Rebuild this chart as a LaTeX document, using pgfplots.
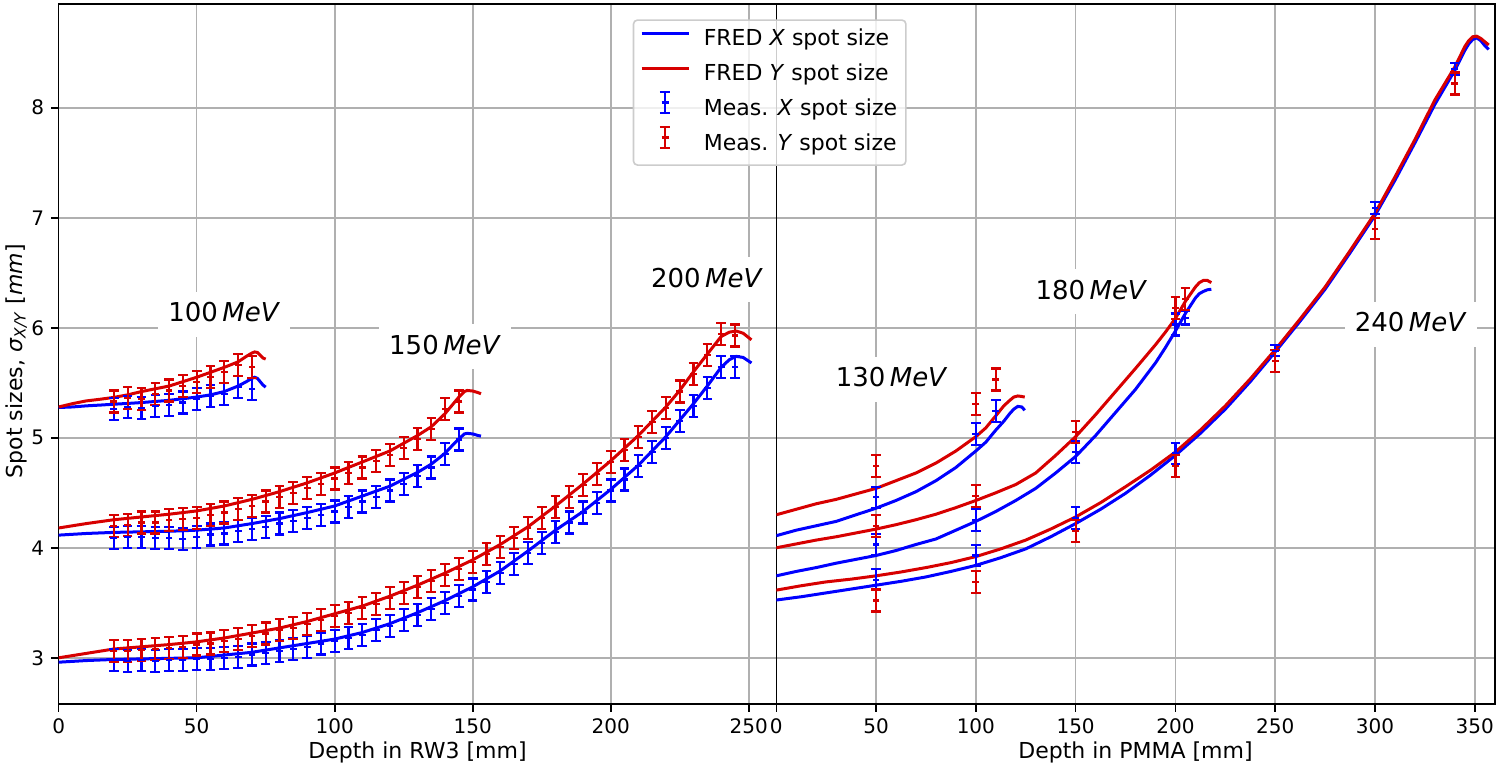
\documentclass[border=0pt]{standalone}
\usepackage{pgfplots}
\pgfplotsset{compat=1.18}
\usepackage{pgfplotstable}
\usepackage{fontspec}
\setmainfont{DejaVu Sans}
\definecolor{mblue}{RGB}{0,0,255}
\definecolor{mred}{RGB}{215,0,0}
\definecolor{mgrid}{RGB}{176,176,176}

% ---------------- RW3 (left) ----------------
\pgfplotstableread{
x b r
0 5.275 5.28
5 5.28 5.31
10 5.29 5.335
15 5.297 5.35
20 5.305 5.367
25 5.312 5.39
30 5.32 5.42
35 5.33 5.445
40 5.34 5.47
45 5.355 5.51
50 5.37 5.55
55 5.39 5.595
60 5.42 5.64
65 5.47 5.69
68 5.51 5.74
70 5.54 5.77
71 5.55 5.78
72 5.54 5.775
73 5.51 5.75
74 5.48 5.725
75 5.46 5.715
}\fredA
\pgfplotstableread{
x b r
20 5.26 5.33
25 5.28 5.36
30 5.27 5.35
35 5.29 5.40
40 5.30 5.43
45 5.32 5.47
50 5.35 5.51
55 5.38 5.55
60 5.40 5.60
65 5.46 5.66
70 5.44 5.64
}\measA
\pgfplotstableread{
x b r
0 4.115 4.18
10 4.13 4.22
20 4.14 4.255
30 4.145 4.28
40 4.15 4.305
50 4.16 4.335
60 4.18 4.38
70 4.22 4.44
80 4.265 4.51
90 4.32 4.59
100 4.38 4.68
110 4.47 4.78
120 4.56 4.88
130 4.685 5.02
135 4.76 5.10
140 4.86 5.22
143 4.94 5.31
145 4.99 5.37
147 5.035 5.42
148 5.04 5.43
150 5.035 5.425
152 5.02 5.41
153 5.015 5.40
}\fredB
\pgfplotstableread{
x b r
20 4.09 4.20
25 4.10 4.21
30 4.10 4.23
35 4.09 4.23
40 4.09 4.25
45 4.08 4.26
50 4.10 4.27
55 4.12 4.30
60 4.13 4.32
65 4.15 4.35
70 4.17 4.38
75 4.19 4.42
80 4.22 4.46
85 4.24 4.50
90 4.27 4.54
95 4.30 4.58
100 4.33 4.63
105 4.37 4.68
110 4.42 4.73
115 4.46 4.79
120 4.52 4.84
125 4.58 4.91
130 4.65 4.99
135 4.73 5.08
140 4.85 5.26
145 4.985 5.33
}\measB
\pgfplotstableread{
x b r
0 2.96 3.00
10 2.975 3.04
20 2.985 3.08
30 2.99 3.10
40 2.995 3.12
50 3.00 3.145
60 3.025 3.18
70 3.05 3.225
80 3.09 3.27
90 3.13 3.33
100 3.17 3.40
110 3.23 3.47
120 3.31 3.56
130 3.41 3.66
140 3.52 3.77
150 3.645 3.89
160 3.79 4.03
170 3.97 4.19
180 4.16 4.38
190 4.33 4.58
200 4.53 4.79
210 4.75 5.02
220 5.01 5.28
225 5.16 5.43
230 5.31 5.60
235 5.47 5.76
240 5.64 5.92
243 5.71 5.96
245.5 5.74 5.97
248 5.73 5.95
251 5.68 5.89
}\fredC
\pgfplotstableread{
x b r
20 2.98 3.06
25 2.97 3.06
30 2.98 3.07
35 2.97 3.08
40 2.98 3.09
45 2.98 3.10
50 2.99 3.12
55 2.99 3.13
60 3.00 3.15
65 3.01 3.17
70 3.03 3.20
75 3.04 3.22
80 3.06 3.25
85 3.08 3.27
90 3.10 3.31
95 3.13 3.34
100 3.15 3.38
105 3.18 3.41
110 3.21 3.45
115 3.25 3.49
120 3.29 3.54
125 3.34 3.59
130 3.39 3.64
135 3.44 3.70
140 3.50 3.75
145 3.56 3.81
150 3.62 3.87
155 3.69 3.94
160 3.77 4.01
165 3.85 4.09
170 3.95 4.18
175 4.04 4.27
180 4.14 4.37
185 4.23 4.46
190 4.32 4.57
195 4.41 4.67
200 4.52 4.78
205 4.62 4.89
210 4.74 5.01
215 4.87 5.14
220 5.00 5.27
225 5.15 5.42
230 5.29 5.58
235 5.45 5.75
240 5.64 5.94
245 5.64 5.93
}\measC

% ---------------- PMMA (right) ----------------
\pgfplotstableread{
x b r
0 4.11 4.30
10 4.16 4.35
20 4.20 4.40
30 4.24 4.44
40 4.30 4.49
50 4.36 4.54
60 4.43 4.61
70 4.51 4.68
80 4.61 4.77
90 4.73 4.88
100 4.88 5.01
105 4.96 5.09
110 5.07 5.20
114 5.15 5.29
117 5.22 5.34
119 5.26 5.37
121 5.285 5.38
123 5.28 5.375
124.5 5.25 5.37
}\fredD
\pgfplotstableread{
x b r
0 3.745 4.00
10 3.785 4.035
20 3.82 4.07
30 3.86 4.10
40 3.895 4.135
50 3.93 4.17
60 3.975 4.21
70 4.03 4.255
80 4.08 4.305
90 4.16 4.365
100 4.24 4.43
110 4.33 4.50
120 4.43 4.575
130 4.54 4.68
140 4.68 4.84
150 4.83 5.01
160 5.02 5.21
170 5.23 5.42
180 5.44 5.63
190 5.68 5.845
195 5.82 5.96
200 5.97 6.085
205 6.13 6.24
210 6.27 6.37
212 6.31 6.41
214 6.33 6.43
216 6.345 6.43
218 6.35 6.41
}\fredE
\pgfplotstableread{
x b r
0 3.525 3.615
12.5 3.555 3.655
25 3.59 3.69
37.5 3.625 3.715
50 3.66 3.745
62.5 3.695 3.78
75 3.735 3.82
87.5 3.785 3.865
100 3.84 3.92
112.5 3.91 3.99
125 3.99 4.07
137.5 4.10 4.17
150 4.22 4.28
162.5 4.35 4.41
175 4.495 4.555
187.5 4.66 4.705
200 4.84 4.87
212.5 5.04 5.07
225 5.26 5.29
237.5 5.51 5.535
250 5.78 5.80
262.5 6.06 6.08
275 6.35 6.37
287.5 6.68 6.70
300 7.02 7.04
310 7.34 7.37
320 7.68 7.71
330 8.03 8.07
340 8.34 8.37
345 8.52 8.555
347 8.58 8.61
349 8.62 8.645
351 8.635 8.65
353 8.61 8.63
355 8.565 8.60
357 8.53 8.57
}\fredF
\pgfplotstableread{
x y e
50 4.46 0.095
50 4.03 0.095
50 3.71 0.095
100 5.035 0.1
100 4.25 0.1
100 3.93 0.095
110 5.245 0.1
150 4.87 0.1
150 4.27 0.1
200 6.03 0.1
200 4.86 0.095
205 6.09 0.06
250 5.79 0.05
300 7.09 0.053
340 8.35 0.053
}\measBlueR
\pgfplotstableread{
x y e
50 4.745 0.1
50 4.20 0.1
50 3.52 0.1
100 5.31 0.1
100 4.47 0.1
100 3.69 0.1
110 5.53 0.1
150 5.055 0.1
150 4.155 0.1
200 6.18 0.1
200 4.745 0.1
205 6.26 0.1
250 5.70 0.1
300 6.90 0.095
340 8.22 0.1
}\measRedR

\tikzset{
  anno/.style={fill=white, anchor=base, inner xsep=5pt, inner ysep=4pt,
    text height=11pt, text depth=3.5pt, font=\fontsize{13}{15}\selectfont},
}
\pgfplotsset{
  common/.style={
    scale only axis, height=349.85pt,
    ymin=2.58, ymax=8.94, ytick={3,4,5,6,7,8},
    grid=major, grid style={mgrid, line width=0.8pt},
    axis line style={black, line width=0.8pt},
    tick align=outside, major tick length=3.8pt,
    every tick/.style={black, line width=0.8pt},
    xtick pos=left, ytick pos=left,
    tick label style={font=\fontsize{10}{12}\selectfont},
    /pgf/number format/assume math mode=true,
    label style={font=\fontsize{11}{13}\selectfont},
    xlabel style={at={(axis description cs:0.5,0)}, anchor=base, yshift=-27pt},
  },
  fred/.style={line width=1.5pt, no marks},
  meas/.style={only marks, mark=-, mark size=1.7pt, mark options={line width=1.1pt},
    error bars/y dir=both,
    error bars/error bar style={line width=1.1pt},
    error bars/error mark options={line width=1.1pt, mark size=2.4pt, rotate=90}},
}

\begin{document}
\begin{tikzpicture}
\useasboundingbox (-29.35pt,-31pt) rectangle (720.15pt,352pt);
% ---------- left axis ----------
\begin{axis}[common, at={(0pt,0pt)}, anchor=south west, width=358.8pt,
  xmin=0, xmax=260, xtick={0,50,100,150,200,250},
  xlabel={Depth in RW3 [mm]},
  ylabel={Spot sizes, \textit{σ}\textsubscript{\textit{X/Y}} [\textit{mm}]},
  ylabel style={at={(axis description cs:-0.0511,0.49)}, anchor=base},
]
\addplot[mblue, fred] table[x=x, y=b] {\fredA};
\addplot[mred, fred] table[x=x, y=r] {\fredA};
\addplot[mblue, fred] table[x=x, y=b] {\fredB};
\addplot[mred, fred] table[x=x, y=r] {\fredB};
\addplot[mblue, fred] table[x=x, y=b] {\fredC};
\addplot[mred, fred] table[x=x, y=r] {\fredC};
\addplot[mblue, meas, error bars/y fixed=0.1] table[x=x, y=b] {\measA};
\addplot[mred, meas, error bars/y fixed=0.1] table[x=x, y=r] {\measA};
\addplot[mblue, meas, error bars/y fixed=0.1] table[x=x, y=b] {\measB};
\addplot[mred, meas, error bars/y fixed=0.1] table[x=x, y=r] {\measB};
\addplot[mblue, meas, error bars/y fixed=0.1] table[x=x, y=b] {\measC};
\addplot[mred, meas, error bars/y fixed=0.1] table[x=x, y=r] {\measC};
\node[anno] at (axis cs:60,6.055) {100\hspace{0.17em}\textit{MeV}};
\node[anno] at (axis cs:140,5.76) {150\hspace{0.17em}\textit{MeV}};
\node[anno] at (axis cs:234.9,6.367) {200\hspace{0.17em}\textit{MeV}};
\end{axis}
% ---------- right axis ----------
\begin{axis}[common, at={(358.8pt,0pt)}, anchor=south west, width=359.2pt,
  xmin=0, xmax=360, xtick={0,50,100,150,200,250,300,350},
  xlabel={Depth in PMMA [mm]},
  yticklabels={}, ytick style={draw=none},
  legend style={at={(-0.1999,0.9786)}, anchor=north west, draw=black!20, line width=0.8pt,
    rounded corners=2pt, fill=white, fill opacity=0.8, text opacity=1, draw opacity=1,
    inner sep=3.35pt, font=\fontsize{11}{13}\selectfont, row sep=4.2pt, column sep=5.8pt,
    nodes={inner sep=1pt, text height=8.5pt, text depth=2.8pt}},
  legend cell align=left,
]
\addlegendimage{legend image code/.code={\draw[mblue, line width=1.5pt] (0pt,3.5pt) -- (23.5pt,3.5pt);}}
\addlegendentry{FRED \textit{X} spot size}
\addlegendimage{legend image code/.code={\draw[mred, line width=1.5pt] (0pt,3.5pt) -- (23.5pt,3.5pt);}}
\addlegendentry{FRED \textit{Y} spot size}
\addlegendimage{legend image code/.code={
  \path[draw=none, fill=none] (0pt,3.5pt) -- (23.5pt,3.5pt);
  \begin{scope}[overlay]
  \draw[mblue, line width=1.1pt] (11.75pt,-1.65pt) -- (11.75pt,9.15pt);
  \draw[mblue, line width=1.1pt] (9.1pt,-1.65pt) -- (14.4pt,-1.65pt);
  \draw[mblue, line width=1.1pt] (9.1pt,9.15pt) -- (14.4pt,9.15pt);
  \draw[mblue, line width=1.1pt] (10pt,3.75pt) -- (13.5pt,3.75pt);
  \end{scope}}}
\addlegendentry{Meas. \textit{X} spot size}
\addlegendimage{legend image code/.code={
  \path[draw=none, fill=none] (0pt,3.5pt) -- (23.5pt,3.5pt);
  \begin{scope}[overlay]
  \draw[mred, line width=1.1pt] (11.75pt,-1.65pt) -- (11.75pt,9.15pt);
  \draw[mred, line width=1.1pt] (9.1pt,-1.65pt) -- (14.4pt,-1.65pt);
  \draw[mred, line width=1.1pt] (9.1pt,9.15pt) -- (14.4pt,9.15pt);
  \draw[mred, line width=1.1pt] (10pt,3.75pt) -- (13.5pt,3.75pt);
  \end{scope}}}
\addlegendentry{Meas. \textit{Y} spot size}
\addplot[mblue, fred, forget plot] table[x=x, y=b] {\fredD};
\addplot[mred, fred, forget plot] table[x=x, y=r] {\fredD};
\addplot[mblue, fred, forget plot] table[x=x, y=b] {\fredE};
\addplot[mred, fred, forget plot] table[x=x, y=r] {\fredE};
\addplot[mblue, fred, forget plot] table[x=x, y=b] {\fredF};
\addplot[mred, fred, forget plot] table[x=x, y=r] {\fredF};
\addplot[mblue, meas, forget plot, error bars/y explicit] table[x=x, y=y, y error=e] {\measBlueR};
\addplot[mred, meas, forget plot, error bars/y explicit] table[x=x, y=y, y error=e] {\measRedR};
\node[anno] at (axis cs:57.8,5.464) {130\hspace{0.17em}\textit{MeV}};
\node[anno] at (axis cs:157.9,6.258) {180\hspace{0.17em}\textit{MeV}};
\node[anno] at (axis cs:317.9,5.964) {240\hspace{0.17em}\textit{MeV}};
\end{axis}
\end{tikzpicture}
\end{document}
